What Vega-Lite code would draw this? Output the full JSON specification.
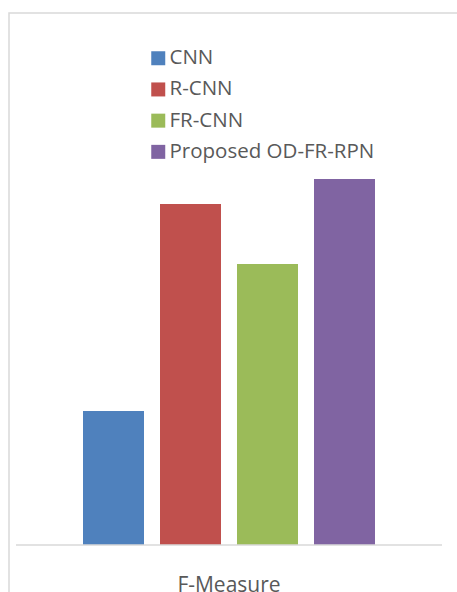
{
  "$schema": "https://vega.github.io/schema/vega-lite/v6.json",
  "autosize": "none",
  "padding": {"left": 9, "top": 13, "right": 0, "bottom": 0},
  "width": 460,
  "height": 600,
  "background": "white",
  "config": {
    "view": {"stroke": "#d9d9d9", "strokeWidth": 1.5},
    "font": "Open Sans"
  },
  "layer": [
    {
      "data": {
        "values": [
          {"model": "CNN", "value": 26.8},
          {"model": "R-CNN", "value": 68.2},
          {"model": "FR-CNN", "value": 56.2},
          {"model": "Proposed OD-FR-RPN", "value": 73.2}
        ]
      },
      "mark": {"type": "bar"},
      "encoding": {
        "x": {
          "field": "model", "type": "nominal", "axis": null,
          "sort": ["CNN", "R-CNN", "FR-CNN", "Proposed OD-FR-RPN"],
          "scale": {"range": [74, 366], "paddingInner": 0.207792, "paddingOuter": 0}
        },
        "y": {
          "field": "value", "type": "quantitative", "axis": null,
          "scale": {"domain": [-13.6, 106.4], "nice": false, "zero": false}
        },
        "color": {
          "field": "model", "type": "nominal",
          "sort": ["CNN", "R-CNN", "FR-CNN", "Proposed OD-FR-RPN"],
          "scale": {
            "domain": ["CNN", "R-CNN", "FR-CNN", "Proposed OD-FR-RPN"],
            "range": ["#4F81BD", "#C0504D", "#9BBB59", "#8064A2"]
          },
          "legend": {
            "title": null,
            "orient": "none",
            "legendX": 139,
            "legendY": 35,
            "padding": 0,
            "symbolType": "square",
            "symbolSize": 196,
            "symbolStrokeWidth": 0,
            "labelFont": "Open Sans",
            "labelFontSize": 20.5,
            "labelFontWeight": "normal",
            "labelColor": "#595959",
            "labelOffset": 1,
            "labelLimit": 0,
            "rowPadding": 10.2
          }
        }
      }
    },
    {
      "data": {"values": [{"label": "F-Measure"}]},
      "mark": {"type": "rule", "color": "#d9d9d9", "strokeWidth": 1.5},
      "encoding": {
        "x": {"datum": "CNN", "bandPosition": -1.0984},
        "x2": {"datum": "Proposed OD-FR-RPN", "bandPosition": 2.0984},
        "y": {"datum": 0}
      }
    },
    {
      "data": {"values": [{"label": "F-Measure"}]},
      "mark": {"type": "text", "fontSize": 21, "fontWeight": "normal", "color": "#595959", "baseline": "alphabetic", "align": "center"},
      "encoding": {
        "x": {"datum": "R-CNN", "bandPosition": 1.1311},
        "y": {"datum": -9.4},
        "text": {"field": "label"}
      }
    }
  ]
}
